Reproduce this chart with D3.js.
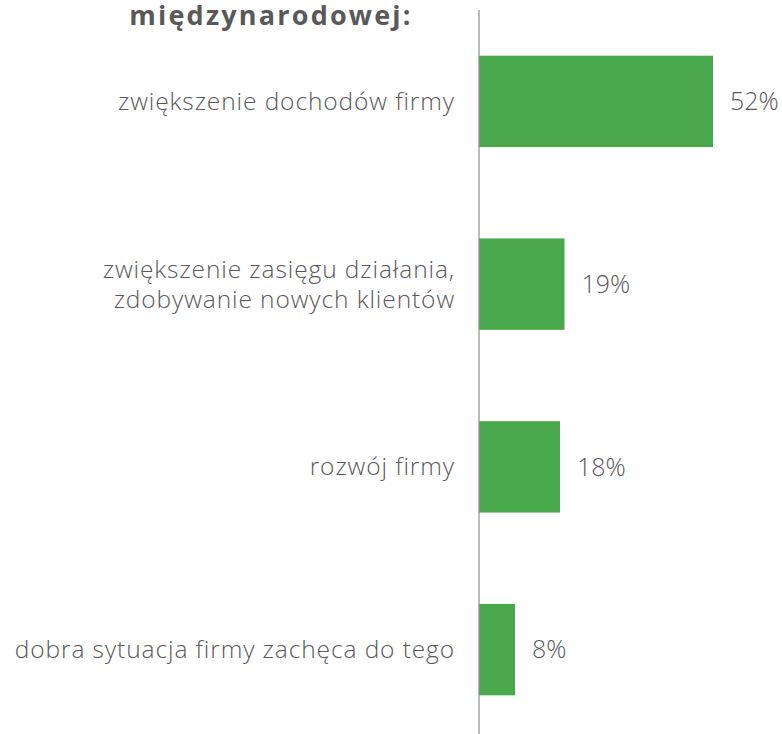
<!DOCTYPE html>
<html><head><meta charset="utf-8">
<script src="https://cdn.jsdelivr.net/npm/d3@7"></script>
<style>body{margin:0;background:#fff}svg{display:block}</style>
</head><body>
<script>
const categories = [
  ["zwiększenie dochodów firmy"],
  ["zwiększenie zasięgu działania,", "zdobywanie nowych klientów"],
  ["rozwój firmy"],
  ["dobra sytuacja firmy zachęca do tego"]
];
const values = [52, 19, 18, 8];
const valueLabels = ["52%", "19%", "18%", "8%"];
const titleText = "międzynarodowej:";

const W = 782, H = 734;
const svg = d3.select("body").append("svg").attr("width", W).attr("height", H);
const font = "'Open Sans', 'DejaVu Sans', sans-serif";
const grey = "#595959";

const x = d3.scaleLinear().domain([0, 52]).range([479, 713]);
const y = d3.scaleBand().domain(d3.range(values.length)).range([10, 741]).paddingInner(0.5).paddingOuter(0.25);

svg.append("text").attr("x", 271).attr("y", 25).attr("text-anchor", "middle")
  .attr("font-family", font).attr("font-weight", "bold").attr("font-size", 27)
  .attr("letter-spacing", 2.2)
  .attr("fill", grey).text(titleText);

svg.selectAll("rect.bar").data(values).join("rect").attr("class", "bar")
  .attr("x", x(0)).attr("y", (d, i) => y(i))
  .attr("width", d => x(d) - x(0)).attr("height", y.bandwidth())
  .attr("fill", "#4aa84c");

svg.append("line").attr("x1", x(0)).attr("x2", x(0)).attr("y1", 10).attr("y2", H)
  .attr("stroke", "#8c8c8c").attr("stroke-width", 1.2);

svg.selectAll("text.val").data(values).join("text").attr("class", "val")
  .attr("x", d => x(d) + 17).attr("y", (d, i) => y(i) + y.bandwidth() / 2)
  .attr("dy", "0.35em").attr("font-family", font).attr("font-size", 25)
  .attr("font-weight", 300)
  .attr("fill", grey).text((d, i) => valueLabels[i]);

const lh = 30;
categories.forEach((lines, i) => {
  const cy = y(i) + y.bandwidth() / 2;
  const t = svg.append("text").attr("text-anchor", "end")
    .attr("font-family", font).attr("font-size", 24.5).attr("letter-spacing", 0.9)
    .attr("font-weight", 300).attr("fill", grey);
  lines.forEach((ln, j) => {
    t.append("tspan").attr("x", 455)
      .attr("y", cy + (j - (lines.length - 1) / 2) * lh)
      .attr("dy", "0.35em").text(ln);
  });
});
</script>
</body></html>
